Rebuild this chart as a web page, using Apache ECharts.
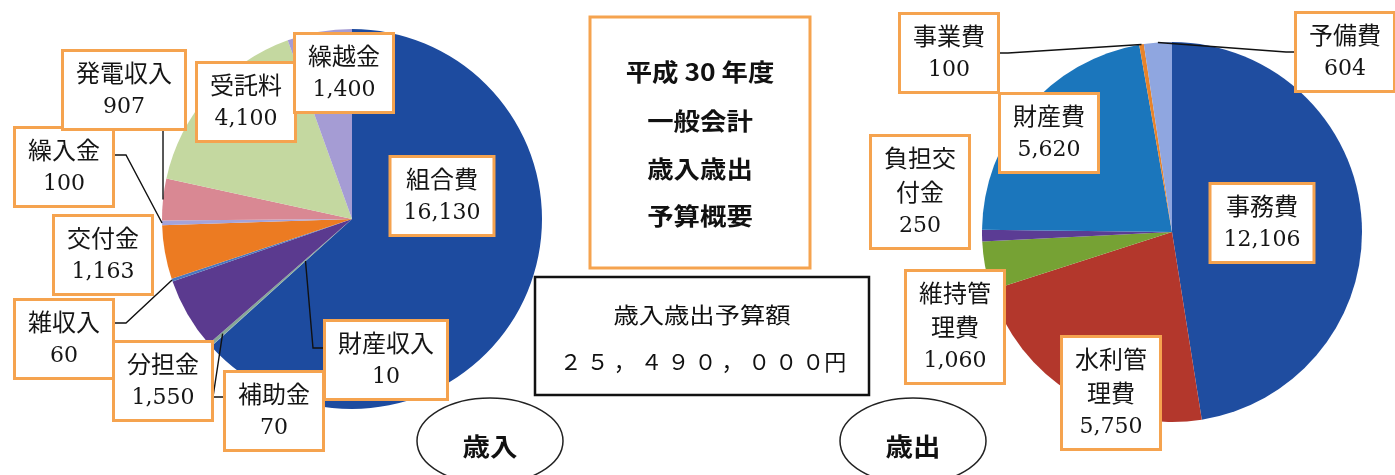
<!DOCTYPE html>
<html><head><meta charset="utf-8">
<script src="https://cdn.jsdelivr.net/npm/echarts/dist/echarts.min.js"></script>
<style>html,body{margin:0;padding:0;background:#fff;overflow:hidden}#c{width:1395px;height:475px}</style>
</head><body><div id="c"></div>
<script>
// ---- data (千円) ----
const incomeNames  = ['組合費','財産収入','補助金','分担金','雑収入','交付金','繰入金','発電収入','受託料','繰越金'];
const incomeValues = [16130, 10, 70, 1550, 60, 1163, 100, 907, 4100, 1400];
const expenseNames  = ['事務費','水利管理費','維持管理費','負担交付金','財産費','事業費','予備費'];
const expenseValues = [12106, 5750, 1060, 250, 5620, 100, 604];
const titleLines = ['平成 30 年度','一般会計','歳入歳出','予算概要'];
const totalCaption = '歳入歳出予算額';
const unitYen = 1000;
const pieCaptions = ['歳入','歳出'];

// ---- styles / layout ----
const incomeColors  = ['#1d4b9f','#6d8fb8','#86a896','#5b3a8f','#4a78c0','#ec7b22','#a4a3da','#d98893','#c4d8a0','#a59cd4'];
const expenseColors = ['#1f4da0','#b3372c','#76a234','#5b3c94','#1b76bc','#e8832a','#8fa6e0'];
const incomeLabelPos  = [[442,196],[386,360],[274,411],[163,381],[64,339],[103,255],[64,167],[124,90],[246,102],[344,73]];
const incomeLine      = [false,true,true,false,true,false,true,true,false,false];
// leader line: anchor at fraction f of the radius along the slice's mid-angle, attached to a side of the box
const incomeLineSpec  = [null,
  { f: 0.33, side: 'left', dy: -12 },
  { f: 0.91, side: 'left', dy: -14 },
  null,
  { f: 1.0, side: 'right', dy: -16 },
  null,
  { f: 1.0, side: 'right', dy: -12 },
  { f: 1.0, side: 'bottom' },
  null, null];
const expenseLabelPos = [[1262,223],[1111,393],[955,327],[920,192],[1049,133],[949,53],[1345,52]];
const expenseLine     = [false,false,false,false,false,true,true];
const expenseLineSpec = [null,null,null,null,null,null,null];

const ORANGE = '#f5a34f';
const CJK = "'Noto Sans CJK JP'";

function labelText(name, value) {
  const parts = name.length > 4 ? [name.slice(0,3), name.slice(3)] : [name];
  return parts.map(s => '{a|' + s + '}').join('\n') + '\n{b|' + value.toLocaleString('en-US') + '}';
}
function buildData(names, values, colors, lines) {
  return names.map((n, i) => ({
    name: n, value: values[i],
    itemStyle: { color: colors ? colors[i] : 'rgba(0,0,0,0)' },
    labelLine: { show: lines ? lines[i] : false }
  }));
}
// filled slices (no labels)
function pieSlices(names, values, colors, center) {
  return {
    type: 'pie', z: 2, center: center, radius: 190, startAngle: 90, clockwise: true,
    silent: true, animation: false,
    data: buildData(names, values, colors, null),
    itemStyle: { borderWidth: 0 },
    label: { show: false }, labelLine: { show: false },
    emphasis: { disabled: true }
  };
}
// transparent overlay carrying the boxed labels and leader lines
function pieLabels(names, values, lines, pos, specs, center) {
  return {
    type: 'pie', z: 3, center: center, radius: 190, startAngle: 90, clockwise: true,
    avoidLabelOverlap: false, silent: true, animation: false,
    data: buildData(names, values, null, lines),
    itemStyle: { borderWidth: 0 },
    label: {
      show: true, position: 'outside',
      formatter: p => labelText(p.name, p.value),
      backgroundColor: '#fff', borderColor: ORANGE, borderWidth: 3,
      padding: [4, 12], align: 'center',
      rich: {
        a: { fontFamily: CJK, fontSize: 24, lineHeight: 34, color: '#151515' },
        b: { fontFamily: "'DejaVu Serif'", fontSize: 22, lineHeight: 34, color: '#151515' }
      }
    },
    labelLine: { length: 10, length2: 8, lineStyle: { color: '#111', width: 1.4 } },
    labelLayout: function (params) {
      const i = params.dataIndex;
      const p = pos[i];
      const out = { x: p[0], y: p[1], align: 'center', verticalAlign: 'middle', hideOverlap: false };
      const s = specs[i];
      if (s && params.labelLinePoints) {
        const e = params.labelLinePoints[0];
        const a = [center[0] + s.f * (e[0] - center[0]), center[1] + s.f * (e[1] - center[1])];
        const w = params.labelRect.width, h = params.labelRect.height;
        const left = p[0] - w / 2, right = p[0] + w / 2, bottom = p[1] + h / 2;
        if (s.side === 'left') {
          const y = p[1] + s.dy;
          out.labelLinePoints = [a, [left - 10, y], [left, y]];
        } else if (s.side === 'right') {
          const y = p[1] + s.dy;
          out.labelLinePoints = [a, [right + 11, y], [right, y]];
        } else {
          out.labelLinePoints = [a, [a[0], bottom], [a[0], bottom]];
        }
      }
      return out;
    },
    emphasis: { disabled: true }
  };
}

const total = incomeValues.reduce((a, b) => a + b, 0) * unitYen;
const fw = s => s.replace(/[0-9,]/g, ch => String.fromCharCode(ch.charCodeAt(0) + 0xFEE0));
const amountText = fw(total.toLocaleString('en-US')).split('').join(' ') + '円';

const graphics = [
  { type: 'rect', shape: { x: 590, y: 17, width: 220, height: 251 }, style: { fill: '#fff', stroke: ORANGE, lineWidth: 3 } },
  ...titleLines.map((t, i) => ({
    type: 'text', x: 700, y: [72, 121, 169, 216][i], scaleX: 1.1,
    style: { text: t, font: "bold 24px " + CJK, fill: '#111', textAlign: 'center', textVerticalAlign: 'middle' }
  })),
  { type: 'rect', shape: { x: 535, y: 277, width: 334, height: 118 }, style: { fill: '#fff', stroke: '#111', lineWidth: 2.5 } },
  { type: 'text', x: 702, y: 315, scaleX: 1.15,
    style: { text: totalCaption, font: "22px " + CJK, fill: '#111', textAlign: 'center', textVerticalAlign: 'middle' } },
  { type: 'text', x: 703, y: 362,
    style: { text: amountText, font: "22px " + CJK, fill: '#111', textAlign: 'center', textVerticalAlign: 'middle' } },
  { type: 'ellipse', shape: { cx: 490, cy: 441, rx: 73, ry: 43 }, style: { fill: 'none', stroke: '#222', lineWidth: 1.5 } },
  { type: 'text', x: 490, y: 446, scaleX: 1.1,
    style: { text: pieCaptions[0], font: "bold 25px " + CJK, fill: '#111', textAlign: 'center', textVerticalAlign: 'middle' } },
  { type: 'ellipse', shape: { cx: 913, cy: 441, rx: 73, ry: 43 }, style: { fill: 'none', stroke: '#222', lineWidth: 1.5 } },
  { type: 'text', x: 913, y: 446, scaleX: 1.1,
    style: { text: pieCaptions[1], font: "bold 25px " + CJK, fill: '#111', textAlign: 'center', textVerticalAlign: 'middle' } }
];

const incomeCenter = [352, 219], expenseCenter = [1172, 232];
const chart = echarts.init(document.getElementById('c'), null, { renderer: 'canvas' });
chart.setOption({
  animation: false,
  backgroundColor: '#fff',
  series: [
    pieSlices(incomeNames, incomeValues, incomeColors, incomeCenter),
    pieSlices(expenseNames, expenseValues, expenseColors, expenseCenter),
    pieLabels(incomeNames, incomeValues, incomeLine, incomeLabelPos, incomeLineSpec, incomeCenter),
    pieLabels(expenseNames, expenseValues, expenseLine, expenseLabelPos, expenseLineSpec, expenseCenter)
  ],
  graphic: graphics
});
</script></body></html>
